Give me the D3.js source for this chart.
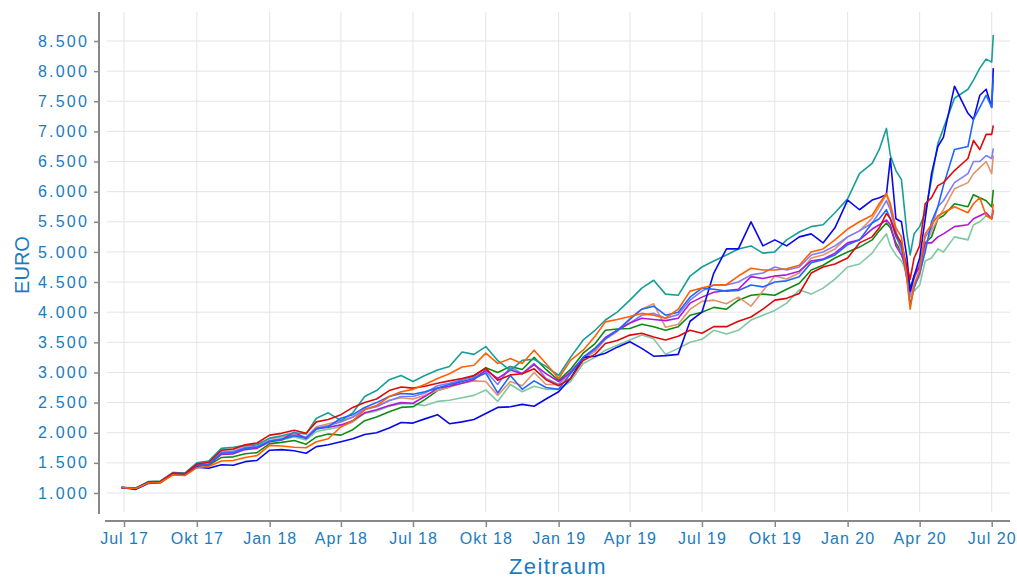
<!DOCTYPE html>
<html>
<head>
<meta charset="utf-8">
<script src="https://cdn.jsdelivr.net/npm/d3@7"></script>
<style>
  body { margin: 0; background: #fff; }
  text { font-family: "Liberation Sans", Arial, sans-serif; }
</style>
</head>
<body>
<div id="chart"></div>
<script>
// dates of the sampled points
var dates = [
  "2017-06-28","2017-07-16","2017-08-01","2017-08-16","2017-09-01","2017-09-16","2017-10-01","2017-10-16","2017-11-01","2017-11-16","2017-12-01","2017-12-16",
  "2018-01-01","2018-01-16","2018-02-01","2018-02-16","2018-03-01","2018-03-16","2018-04-01","2018-04-16","2018-05-01","2018-05-16","2018-06-01","2018-06-16",
  "2018-07-01","2018-07-16","2018-08-01","2018-08-16","2018-09-01","2018-09-16","2018-10-01","2018-10-16","2018-11-01","2018-11-16","2018-12-01","2018-12-16",
  "2019-01-01","2019-01-16","2019-02-01","2019-02-16","2019-03-01","2019-03-16","2019-04-01","2019-04-16","2019-05-01","2019-05-16","2019-06-01","2019-06-16",
  "2019-07-01","2019-07-16","2019-08-01","2019-08-16","2019-09-01","2019-09-16","2019-10-01","2019-10-16","2019-11-01","2019-11-16","2019-12-01","2019-12-16",
  "2020-01-01","2020-01-16","2020-02-01","2020-02-10","2020-02-19","2020-02-24","2020-03-02","2020-03-09","2020-03-16","2020-03-20","2020-03-25",
  "2020-04-01","2020-04-08","2020-04-16","2020-04-24","2020-05-01","2020-05-15","2020-06-01","2020-06-08","2020-06-16","2020-06-24","2020-07-01","2020-07-03"
];

var seaGreen = [1090,1080,1180,1190,1330,1320,1470,1470,1680,1690,1740,1760,
  1860,1880,1930,1880,2020,2060,2100,2180,2320,2360,2440,2480,
  2480,2450,2520,2540,2580,2620,2710,2520,2800,2680,2770,2720,
  2720,2850,3150,3250,3370,3450,3540,3620,3560,3300,3400,3500,
  3550,3700,3640,3700,3870,3950,4030,4150,4370,4300,4400,4550,
  4750,4800,4980,5150,5300,5100,4950,4850,4650,4420,4350,
  4450,4850,4900,5050,5000,5250,5200,5450,5500,5600,5550,5650];

var green = [1090,1075,1170,1180,1310,1300,1450,1460,1590,1600,1650,1670,
  1820,1840,1870,1810,1930,1980,1960,2050,2200,2260,2350,2420,
  2430,2550,2700,2760,2880,2940,3080,3000,3100,3050,3250,3050,
  2870,3050,3320,3480,3700,3720,3730,3800,3760,3700,3760,3950,
  4000,4080,4050,4200,4280,4300,4280,4380,4480,4700,4780,4900,
  5000,5080,5200,5350,5480,5400,5150,5000,4700,4400,4600,
  4780,5150,5250,5550,5600,5800,5750,5950,5900,5850,5750,6030];

var salmon = [1090,1080,1185,1195,1340,1330,1490,1500,1720,1720,1780,1800,
  1900,1930,1980,1930,2100,2150,2200,2260,2400,2440,2540,2580,
  2560,2620,2700,2760,2820,2860,2850,2620,2850,2780,3000,2800,
  2800,3000,3220,3350,3550,3680,3900,4050,4140,3750,3800,4050,
  4180,4200,4140,4250,4100,4350,4600,4550,4650,4900,4950,5050,
  5250,5350,5560,5750,5950,5750,5300,5000,4550,4250,4450,
  4600,5100,5350,5550,5700,6050,6150,6300,6400,6500,6300,6600];

var lavender = [1090,1080,1180,1190,1330,1320,1470,1480,1680,1690,1760,1770,
  1870,1900,1960,1920,2080,2120,2180,2260,2390,2430,2530,2600,
  2600,2660,2780,2820,2880,2920,3020,2800,3090,2980,3150,2900,
  2800,3020,3230,3380,3560,3700,3820,3950,3980,3900,3960,4200,
  4350,4450,4450,4500,4620,4650,4750,4700,4750,4950,5000,5100,
  5250,5350,5480,5650,5850,5700,5350,5050,4600,4300,4550,
  4800,5250,5400,5750,5850,6150,6300,6500,6500,6600,6550,6720];

var purple = [1090,1080,1180,1190,1320,1310,1460,1470,1640,1650,1720,1740,
  1850,1880,2010,1900,2070,2090,2130,2200,2330,2380,2450,2500,
  2490,2600,2740,2770,2820,2880,3040,2900,3040,2980,3130,2980,
  2850,3000,3250,3400,3580,3700,3820,3900,3880,3860,3900,4150,
  4250,4330,4360,4380,4590,4560,4600,4620,4680,4850,4880,4980,
  5150,5200,5380,5450,5530,5450,5100,4950,4700,4350,4600,
  4750,5150,5150,5250,5300,5420,5450,5550,5600,5650,5550,5700];

var teal = [1090,1085,1190,1200,1340,1330,1500,1530,1740,1760,1790,1800,
  1910,1950,2000,1980,2240,2330,2200,2330,2600,2700,2880,2950,
  2850,2950,3040,3100,3340,3300,3430,3200,3030,3200,3220,3100,
  2950,3250,3540,3700,3870,4000,4200,4400,4530,4300,4280,4600,
  4750,4850,4950,5050,5100,4980,5000,5200,5330,5420,5450,5650,
  5880,6300,6470,6700,7050,6600,6350,6200,5300,4950,5300,
  5420,5650,6200,6800,7050,7550,7700,7850,8050,8200,8150,8600];

var blue = [1090,1060,1160,1170,1320,1300,1430,1410,1470,1460,1520,1540,
  1710,1720,1700,1660,1770,1800,1850,1900,1970,2000,2080,2170,
  2160,2230,2300,2150,2180,2220,2320,2420,2430,2470,2440,2560,
  2680,2900,3250,3270,3320,3420,3510,3400,3270,3280,3300,3850,
  4000,4650,5050,5050,5500,5100,5200,5100,5250,5300,5150,5400,
  5860,5700,5860,5900,5950,6550,5550,5500,4900,4350,4600,
  4900,5550,6300,6750,6900,7750,7300,7200,7600,7700,7400,8050];

var lightBlue = [1090,1080,1180,1190,1330,1320,1460,1470,1660,1670,1740,1760,
  1860,1890,1950,1910,2060,2100,2240,2300,2420,2500,2600,2650,
  2640,2680,2740,2800,2850,2900,2990,2660,2950,2720,2860,2750,
  2720,2980,3250,3400,3560,3700,3880,4050,4100,3950,4000,4250,
  4400,4380,4350,4360,4450,4420,4500,4520,4590,4820,4870,4950,
  5120,5200,5480,5550,5700,5550,5250,5100,4550,4120,4400,
  4650,5000,5500,5750,6100,6700,6750,7200,7400,7600,7400,7900];

var red = [1090,1080,1180,1190,1330,1320,1480,1510,1710,1730,1800,1830,
  1960,1990,2040,1990,2180,2220,2300,2420,2500,2560,2700,2760,
  2740,2770,2820,2860,2900,2950,3070,2870,2960,2980,3060,2880,
  2780,2900,3200,3300,3480,3530,3620,3650,3590,3540,3600,3700,
  3650,3760,3760,3850,3920,4050,4200,4230,4310,4650,4750,4800,
  4900,5150,5250,5400,5640,5550,5300,5150,4750,4550,4900,
  5100,5800,5900,6100,6150,6350,6550,6850,6700,6950,6950,7100];

var orange = [1090,1075,1165,1175,1300,1290,1420,1440,1530,1540,1590,1620,
  1790,1780,1760,1750,1850,1900,2100,2200,2380,2450,2600,2680,
  2720,2800,2900,2980,3090,3120,3320,3150,3230,3150,3370,3150,
  2900,3200,3370,3600,3840,3880,3930,3980,3950,3900,4050,4350,
  4400,4450,4460,4600,4730,4700,4700,4720,4780,5000,5050,5200,
  5380,5500,5610,5800,5970,5800,5400,5250,4550,4050,4450,
  4700,5300,5450,5600,5650,5750,5650,5800,5900,5600,5550,5800];

// drawing order (last on top) and colours
var seriesNames = ["seaGreen","green","salmon","lavender","purple","teal","blue","lightBlue","red","orange"];
var seriesValues = [seaGreen, green, salmon, lavender, purple, teal, blue, lightBlue, red, orange];
var seriesColors = ["#80c8a2","#0f8a14","#e0946c","#7c7cff","#b018d2","#169e98","#0808ee","#1f66ff","#dc0a0a","#ff6000"];

var yTicks = [1000,1500,2000,2500,3000,3500,4000,4500,5000,5500,6000,6500,7000,7500,8000,8500];
var xTickDates = ["2017-07-01","2017-10-01","2018-01-01","2018-04-01","2018-07-01","2018-10-01","2019-01-01","2019-04-01","2019-07-01","2019-10-01","2020-01-01","2020-04-01","2020-07-01"];
var monthNames = ["Jan","Feb","Mär","Apr","Mai","Jun","Jul","Aug","Sep","Okt","Nov","Dez"];

var parseDate = d3.timeParse("%Y-%m-%d");
var axisBlue = "#1a7cbf";

var svg = d3.select("#chart").append("svg")
  .attr("width", 1017)
  .attr("height", 578);

var xScale = d3.scaleTime()
  .domain([parseDate("2017-07-01"), parseDate("2020-07-01")])
  .range([124, 991.7]);

var yScale = d3.scaleLinear()
  .domain([1000, 8500])
  .range([493, 41]);

var de = d3.formatLocale({decimal: ",", thousands: ".", grouping: [3], currency: ["", " €"]});
var fmt = de.format(",.0f");

// grid
svg.append("g").selectAll("line")
  .data(yTicks)
  .enter()
  .append("line")
    .attr("x1", 107).attr("x2", 1010)
    .attr("y1", function(d) { return yScale(d); })
    .attr("y2", function(d) { return yScale(d); })
    .style("stroke", "#e4e4e6")
    .style("stroke-width", 1);

svg.append("g").selectAll("line")
  .data(xTickDates)
  .enter()
  .append("line")
    .attr("x1", function(d) { return xScale(parseDate(d)); })
    .attr("x2", function(d) { return xScale(parseDate(d)); })
    .attr("y1", 12).attr("y2", 512)
    .style("stroke", "#e4e4e6")
    .style("stroke-width", 1);

// lines
var line = d3.line()
  .x(function(d, i) { return xScale(parseDate(dates[i])); })
  .y(function(d) { return yScale(d); });

svg.append("g").selectAll("path")
  .data(seriesValues)
  .enter()
  .append("path")
    .attr("class", function(d, i) { return seriesNames[i]; })
    .attr("d", function(d) { return line(d); })
    .style("fill", "none")
    .style("stroke", function(d, i) { return seriesColors[i]; })
    .style("stroke-width", 1.6)
    .style("stroke-linejoin", "round");

// y axis
var yAxis = svg.append("g")
  .attr("transform", "translate(99,0)")
  .call(d3.axisLeft(yScale).tickValues(yTicks).tickSize(5).tickPadding(5).tickFormat(fmt));
yAxis.select(".domain").remove();
yAxis.selectAll(".tick line").style("stroke", "#888").style("stroke-width", 1.5);
yAxis.selectAll("text")
  .style("font-size", "16px")
  .style("letter-spacing", "2.2px")
  .style("fill", axisBlue);
svg.append("line")
  .attr("x1", 99).attr("x2", 99).attr("y1", 12).attr("y2", 514)
  .style("stroke", "#888").style("stroke-width", 2);

// x axis
var xAxis = svg.append("g")
  .attr("transform", "translate(0,521)")
  .call(d3.axisBottom(xScale)
    .tickValues(xTickDates.map(parseDate))
    .tickSize(6)
    .tickPadding(6)
    .tickFormat(function(d) { return monthNames[d.getMonth()] + " " + d3.timeFormat("%y")(d); }));
xAxis.select(".domain").remove();
xAxis.selectAll(".tick line").style("stroke", "#888").style("stroke-width", 1.5);
xAxis.selectAll("text")
  .style("font-size", "16px")
  .style("letter-spacing", "1px")
  .style("fill", axisBlue);
svg.append("line")
  .attr("x1", 105).attr("x2", 1010).attr("y1", 521).attr("y2", 521)
  .style("stroke", "#888").style("stroke-width", 2);

// axis titles
svg.append("text")
  .attr("x", 558).attr("y", 574)
  .attr("text-anchor", "middle")
  .style("font-size", "22px")
  .style("letter-spacing", "1.4px")
  .style("fill", axisBlue)
  .text("Zeitraum");

svg.append("text")
  .attr("transform", "translate(29,265) rotate(-90)")
  .attr("text-anchor", "middle")
  .style("font-size", "20px")
  .style("fill", axisBlue)
  .text("EURO");
</script>
</body>
</html>
